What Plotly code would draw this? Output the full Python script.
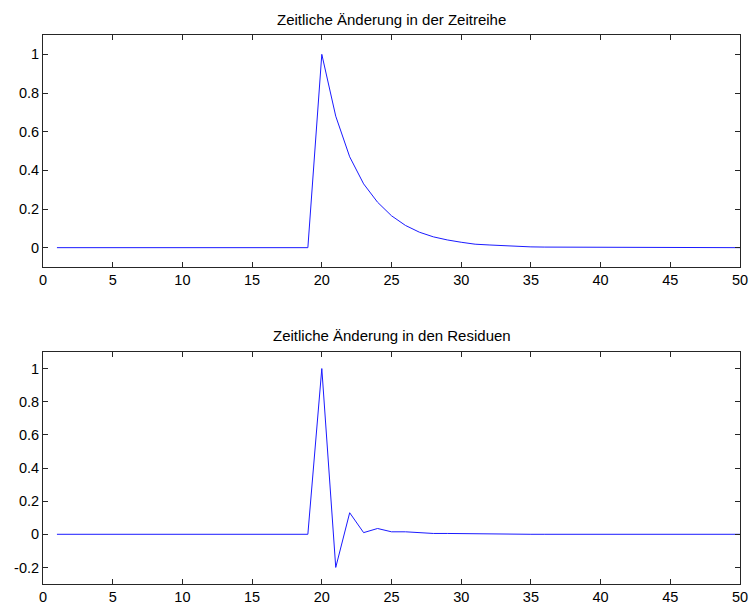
import plotly.graph_objects as go

x_vals = list(range(1, 51))

series_zeitreihe = [0]*19 + [1.0, 0.68, 0.47, 0.33, 0.235, 0.165, 0.115, 0.08, 0.056, 0.04,
                            0.028, 0.018, 0.014, 0.01, 0.007, 0.004, 0.003, 0.003, 0.002, 0.002,
                            0.001, 0.001, 0.0, 0.0, 0.0, 0.0, 0.0, 0.0, 0.0, 0.0, 0.0]
series_residuen = [0]*19 + [1.0, -0.2, 0.13, 0.01, 0.035, 0.015, 0.015, 0.01, 0.005, 0.005,
                            0.004, 0.0, 0.0, 0.0, 0.0, 0.0, 0.0, 0.0, 0.0, 0.0,
                            0.0, 0.0, 0.0, 0.0, 0.0, 0.0, 0.0, 0.0, 0.0, 0.0, 0.0]

titles = ["Zeitliche Änderung in der Zeitreihe", "Zeitliche Änderung in den Residuen"]
x_ticks = list(range(0, 51, 5))
y_ticks_top = [0, 0.2, 0.4, 0.6, 0.8, 1]
y_ticktext_top = ["0", "0.2", "0.4", "0.6", "0.8", "1"]
y_ticks_bot = [-0.2, 0, 0.2, 0.4, 0.6, 0.8, 1]
y_ticktext_bot = ["-0.2", "0", "0.2", "0.4", "0.6", "0.8", "1"]

W, H = 749, 605
fig = go.Figure()
fig.add_trace(go.Scatter(x=x_vals, y=series_zeitreihe, mode="lines",
                         line=dict(color="#1a1aff", width=1), xaxis="x", yaxis="y", showlegend=False))
fig.add_trace(go.Scatter(x=x_vals, y=series_residuen, mode="lines",
                         line=dict(color="#1a1aff", width=1), xaxis="x2", yaxis="y2", showlegend=False))

tick_font = dict(family="Liberation Sans, Arial, sans-serif", size=14.5, color="black")
title_font = dict(family="Liberation Sans, Arial, sans-serif", size=15, color="black")
ax_common = dict(showline=True, linecolor="#262626", linewidth=1, mirror="allticks",
                 ticks="inside", ticklen=5, tickcolor="#262626", showgrid=False, zeroline=False,
                 tickfont=tick_font)

def ypx(p):
    return 1 - p / H

fig.update_layout(
    width=W, height=H,
    margin=dict(l=43, r=9, t=0, b=0),
    paper_bgcolor="white", plot_bgcolor="white",
    font=tick_font,
    xaxis=dict(domain=[0, 1], range=[0, 50], tickvals=x_ticks, anchor="y", **ax_common),
    yaxis=dict(domain=[ypx(267), ypx(35)], range=[-0.1, 1.1], tickvals=y_ticks_top,
               ticktext=y_ticktext_top, anchor="x", **ax_common),
    xaxis2=dict(domain=[0, 1], range=[0, 50], tickvals=x_ticks, anchor="y2", **ax_common),
    yaxis2=dict(domain=[ypx(584), ypx(352)], range=[-0.3, 1.1], tickvals=y_ticks_bot,
                ticktext=y_ticktext_bot, anchor="x2", **ax_common),
    annotations=[
        dict(text=titles[0], x=0.5, y=ypx(19), xref="paper", yref="paper",
             showarrow=False, xanchor="center", yanchor="middle", font=title_font),
        dict(text=titles[1], x=0.5, y=ypx(335), xref="paper", yref="paper",
             showarrow=False, xanchor="center", yanchor="middle", font=title_font),
    ],
)

fig.write_html("out.html")
